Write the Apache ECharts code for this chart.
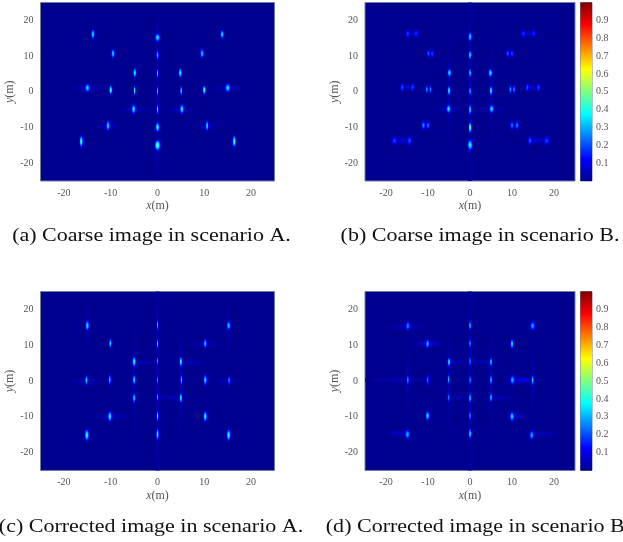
<!DOCTYPE html>
<html><head><meta charset="utf-8">
<style>html,body{margin:0;padding:0;background:#fff;overflow:hidden}#c{width:623px;height:542px}</style>
<script src="https://cdn.jsdelivr.net/npm/echarts@6/dist/echarts.min.js"></script>
</head><body><div id="c"></div>
<script>
// each spot: x (m), y (m), peak intensity, half width x (m), half width y (m)
const spotsA = [
[-13.8,16.1,.38,.33,1],[0,15.2,.38,.45,.9],[13.8,16.1,.38,.33,.9],
[-9.5,10.7,.36,.33,1],[0,10.3,.34,.25,1],[9.5,10.7,.34,.36,1],
[-4.85,5.3,.4,.32,1],[0,5.1,.35,.18,1],[4.85,5.3,.4,.32,1],
[-15,1.1,.36,.46,.9],[-10,.5,.45,.3,.95],[-4.9,.3,.42,.18,1],[0,.2,.35,.16,1],[5.05,.3,.42,.18,1],[10,.5,.45,.3,.95],[15,1.1,.38,.46,.9],
[-5.1,-4.85,.4,.36,1],[0,-4.95,.38,.19,1],[5.2,-4.85,.4,.36,1],
[-10.6,-9.5,.38,.3,1.1],[0,-9.9,.45,.33,1],[10.6,-9.5,.38,.26,1.1],
[-16.3,-13.9,.45,.32,1.2],[0,-15,.5,.5,1.1],[16.4,-13.9,.45,.32,1.2]];
const spotsB = [
[-14.8,16.3,.2,.42,.9],[-12.8,16.3,.17,.65,.8],[0,15.4,.36,.38,1],[12.7,16.3,.18,.55,.8],[15.1,16.3,.18,.42,.8],
[-9.9,10.7,.22,.38,.9],[-9,10.7,.2,.38,.9],[0,10.3,.4,.25,1],[9,10.7,.22,.38,.9],[10,10.7,.2,.38,.9],
[-4.9,5.3,.38,.42,.9],[0,5.3,.45,.18,1],[4.85,5.3,.38,.42,.9],
[-16.1,1.2,.22,.42,.9],[-13.7,1.2,.2,.42,.9],[-10.3,.65,.28,.32,.9],[-9.45,.65,.26,.32,.9],[-5,.3,.4,.32,1],[0,.2,.45,.16,1],[5,.3,.4,.32,1],[9.6,.65,.28,.32,.9],[10.5,.65,.26,.32,.9],[13.65,1.2,.22,.38,.9],[16.3,1.2,.2,.42,.9],
[-5.1,-4.8,.38,.46,.9],[0,-5,.48,.18,1.1],[5.15,-4.8,.38,.46,.9],
[-11.1,-9.4,.28,.42,.9],[-10,-9.4,.25,.38,.9],[0,-10,.55,.23,1.1],[10,-9.4,.25,.38,.9],[11.2,-9.4,.26,.42,.9],
[-18,-13.7,.2,.65,.9],[-14.4,-13.7,.22,.52,.95],[0,-14.9,.4,.55,1.1],[14.3,-13.7,.22,.48,.95],[18.25,-13.7,.2,.65,.9]];
const spotsC = [
[-15,15.5,.38,.36,1.1],[0,15.7,.34,.18,1.1],[15.2,15.5,.34,.36,1],
[-10.1,10.5,.36,.25,1],[0,10.4,.36,.18,1],[10.2,10.5,.36,.28,1],
[-5,5.4,.42,.33,1.1],[0,5.6,.3,.16,.9],[5,5.4,.42,.25,1.1],
[-15.2,.2,.34,.28,1.1],[-10.2,.35,.34,.25,1.1],[-5,.35,.36,.28,1.1],[0,.3,.28,.16,1],[5.1,.35,.36,.21,1.1],[10.2,.3,.38,.31,1.1],[15.3,.2,.28,.23,1.1],
[-5,-4.75,.34,.28,1.1],[0,-4.5,.32,.19,.9],[5,-4.7,.4,.25,1.1],
[-10.2,-9.9,.42,.33,1.1],[0,-9.8,.4,.21,1.1],[10.2,-9.9,.42,.33,1.1],
[-15.1,-15.1,.42,.39,1.2],[0,-14.9,.42,.25,1.2],[15.2,-15.1,.42,.36,1.2]];
const spotsD = [
[-14.8,15.4,.28,.45,1],[0,15.5,.38,.21,1],[14.9,15.4,.3,.55,.95],
[-10.1,10.4,.34,.36,1],[0,10.5,.36,.18,1],[10,10.4,.38,.33,1],
[-5,5.3,.38,.33,1],[0,5.5,.36,.17,1.1],[5,5.3,.38,.23,1],
[-14.8,.3,.3,.27,1.1],[-10.1,.3,.26,.27,1.1],[-5.1,.45,.32,.23,1.1],[0,.3,.42,.15,1.1],[5,.35,.36,.23,1.1],[10.1,.3,.32,.48,1],[14.9,.2,.34,.29,1.1],
[-5.1,-4.6,.26,.28,1],[0,-4.75,.42,.19,1.1],[5,-4.6,.34,.27,1.1],
[-10.1,-9.7,.38,.39,1],[0,-9.7,.36,.18,1.1],[10,-9.9,.36,.45,1],
[-14.9,-14.9,.32,.53,1],[0,-14.7,.38,.27,1.1],[14.7,-15.1,.32,.45,1]];
// faint sidelobes and haze: x, y, peak, half width x, half width y
const hazeA = [[0,-15,.055,.45,5],[0,15,.05,.35,4],[-15,1,.05,2.6,.7],[15,1,.05,2.6,.7],[-5,-5,.05,2.4,.7],[5,-5,.05,2.4,.7],[-10.6,-9.5,.05,2,.7],[10.6,-9.5,.05,2,.7],[0,0,.04,.35,9]];
const hazeB = [[0,0,.05,.35,21],[-14,16.3,.09,1.6,.6],[14,16.3,.09,1.6,.6],[-15,1.2,.08,1.6,.6],[15,1.2,.08,1.6,.6],[-16.2,-13.7,.09,2.4,.6],[16.2,-13.7,.09,2.4,.6],[-5,-4.8,.05,3,.5],[5,-4.8,.05,3,.5],[-5,0,.04,.35,10],[5,0,.04,.35,10]];
const hazeC = [[0,0,.05,.35,20],[-5,0,.045,.35,10],[5,0,.045,.35,10],[-15,0,.045,2.8,.6],[15,0,.045,2.2,.6],[-10,-10,.06,2.5,.7],[-3,5,.045,3,.5],[3,-4.6,.045,3,.5],[7,5,.045,2.6,.5],[-15,15,.04,.45,4],[15,15,.04,.45,4],[10,10.2,.045,2.8,.5]];
const hazeD = [[0,0,.05,.35,21],[-15,15.2,.06,3.4,.6],[-10,10.4,.08,2.6,.7],[-3,5.3,.05,3.4,.5],[3,5.3,.045,3.2,.5],[-17,.2,.04,6,.5],[12.5,.2,.11,3,.6],[7,-4.7,.05,3,.5],[-3,-4.7,.04,2.8,.5],[11,-9.8,.08,1.6,.7],[-17,-14.6,.06,2.5,.6],[17,-14.8,.045,3,.6],[-15,0,.04,.45,5],[15,0,.04,.45,5],[-5,0,.045,.35,9],[5,0,.045,.35,9]];
const xTicks = [-20,-10,0,10,20];
const barTicks = [0.1,0.2,0.3,0.4,0.5,0.6,0.7,0.8,0.9];
const captions = ['(a) Coarse image in scenario A.','(b) Coarse image in scenario B.','(c) Corrected image in scenario A.','(d) Corrected image in scenario B.'];
const panels = [
 {spots:spotsA,haze:hazeA,left:40.5,top:2.5,width:234,height:178.5},
 {spots:spotsB,haze:hazeB,left:365,top:2.5,width:210,height:178.5},
 {spots:spotsC,haze:hazeC,left:40.5,top:291.5,width:234,height:179},
 {spots:spotsD,haze:hazeD,left:365,top:291.5,width:210,height:179}];
const capPos = [[151.5,236.5],[480,236.5],[151,527],[478,527]];

const jetStops=[[0,[0,0,143]],[.125,[0,0,255]],[.375,[0,255,255]],[.625,[255,255,0]],[.875,[255,0,0]],[1,[128,0,0]]];
function jet(v){v=Math.max(0,Math.min(1,v));
 for(let i=1;i<jetStops.length;i++){const a=jetStops[i-1],b=jetStops[i];
  if(v<=b[0]){const t=(v-a[0])/(b[0]-a[0]);return a[1].map((c,k)=>Math.round(c+(b[1][k]-c)*t));}}
 return [128,0,0];}
function blobFill(peak){const cs=[];const N=8;
 for(let i=0;i<=N;i++){const t=i/N;const f=Math.exp(-3.6*t*t);const c=jet(peak*f);
  const alpha=Math.min(1,(1-t)*3);
  cs.push({offset:t,color:`rgba(${c[0]},${c[1]},${c[2]},${alpha.toFixed(3)})`});}
 return {type:'radial',x:.5,y:.5,r:.5,colorStops:cs};}
const renderBlob=(p,api)=>{
 const c=api.coord([api.value(0),api.value(1)]);
 const s=api.size([api.value(3),api.value(4)]);
 return {type:'circle',x:c[0],y:c[1],scaleX:s[0]*1.85/10,scaleY:s[1]*2.15/10,
  shape:{cx:0,cy:0,r:10},style:{fill:blobFill(api.value(2))}};
};
const fmt=v=>xTicks.includes(v)?String(v):'';
const lab={fontFamily:'Liberation Serif',fontSize:10,color:'#555'};
const grid=[],xAxis=[],yAxis=[],series=[];
panels.forEach((p,i)=>{
 grid.push({left:p.left,top:p.top,width:p.width,height:p.height,show:true,backgroundColor:'#00008f',borderColor:'#6f7f9f',borderWidth:1});
 const common={type:'value',min:-25,max:25,interval:5,splitLine:{show:false},axisTick:{show:false},axisLine:{show:false},
   gridIndex:i,axisLabel:{...lab,formatter:fmt,showMinLabel:true,showMaxLabel:true},nameLocation:'middle',
   nameTextStyle:{fontFamily:'Liberation Serif',fontSize:12,color:'#555',rich:{i:{fontFamily:'Liberation Serif',fontStyle:'italic',fontSize:12,color:'#555'}}}};
 xAxis.push({...common,name:'{i|x}(m)',nameGap:19,axisLabel:{...common.axisLabel,margin:7}});
 yAxis.push({...common,name:'{i|y}(m)',nameGap:15,axisLabel:{...common.axisLabel,margin:7}});
 series.push({type:'custom',coordinateSystem:'cartesian2d',xAxisIndex:i,yAxisIndex:i,renderItem:renderBlob,clip:true,silent:true,animation:false,data:p.haze,encode:{x:0,y:1}});
 series.push({type:'custom',coordinateSystem:'cartesian2d',xAxisIndex:i,yAxisIndex:i,renderItem:renderBlob,clip:true,silent:true,animation:false,data:p.spots,encode:{x:0,y:1}});
});
// colour bars
[[2.5,178.5],[291.5,179]].forEach((b,k)=>{
 const gi=grid.length;
 grid.push({left:580.5,top:b[0],width:11.5,height:b[1],show:true,borderColor:'#6f7f9f',borderWidth:1,backgroundColor:'#fff'});
 xAxis.push({type:'category',gridIndex:gi,data:['c'],show:false});
 yAxis.push({type:'value',gridIndex:gi,position:'right',min:0,max:1,interval:.1,splitLine:{show:false},axisTick:{show:false},axisLine:{show:false},
  axisLabel:{...lab,margin:4,align:'left',padding:[4,0,0,0],showMinLabel:false,showMaxLabel:false,formatter:v=>{const r=Math.round(v*10)/10;return barTicks.includes(r)?r.toFixed(1):'';}}});
 series.push({type:'bar',xAxisIndex:gi,yAxisIndex:gi,data:[1],barWidth:'100%',silent:true,animation:false,
  itemStyle:{color:{type:'linear',x:0,y:1,x2:0,y2:0,colorStops:jetStops.map(s=>({offset:s[0],color:`rgb(${s[1].join(',')})`}))}}});
});
const graphic=captions.map((t,i)=>({type:'text',x:capPos[i][0],y:capPos[i][1],scaleX:1.19,silent:true,
 style:{text:t,fontFamily:'Liberation Serif',fontSize:18.5,fill:'#111',align:'center',verticalAlign:'middle'}}));
const chart=echarts.init(document.getElementById('c'),null,{renderer:'canvas'});
chart.setOption({animation:false,tooltip:{show:false},grid,xAxis,yAxis,series,graphic});
</script></body></html>
